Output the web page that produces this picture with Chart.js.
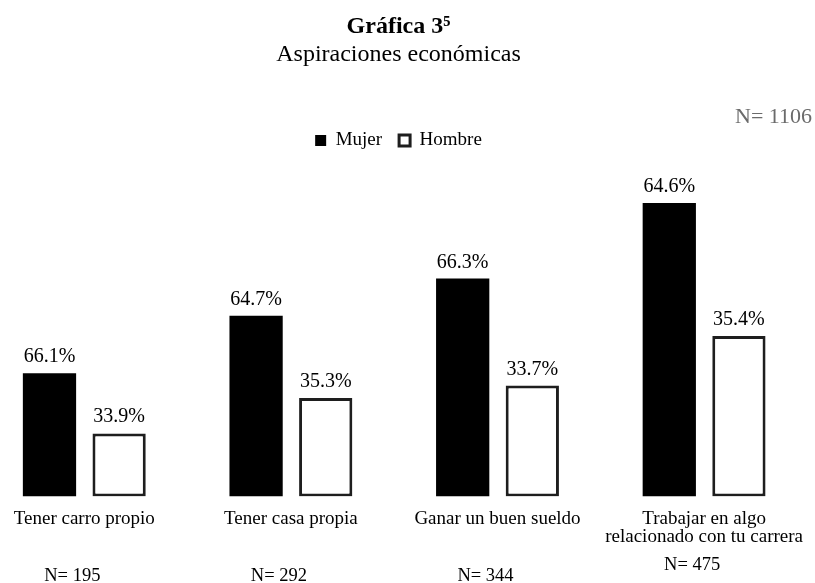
<!DOCTYPE html>
<html lang="es">
<head>
<meta charset="utf-8">
<title>Gráfica 3 - Aspiraciones económicas</title>
<script src="https://cdn.jsdelivr.net/npm/chart.js@4.4.1/dist/chart.umd.min.js"></script>
<style>
  html, body { margin: 0; padding: 0; background: #fff; overflow: hidden; }
  /* plot area in the original runs a little past the left edge */
  #wrap { position: absolute; left: -19px; top: 0; width: 835px; height: 583px; }
</style>
</head>
<body>
<div id="wrap"><canvas id="chart"></canvas></div>
<script>
// ================================
// Data
// ================================
const categories = [
    "Tener carro propio",
    "Tener casa propia",
    "Ganar un buen sueldo",
    ["Trabajar en algo", "relacionado con tu carrera"]
];

// bar heights = number of people in each group
const mujerCount = [129, 189, 228, 307];
const hombreCount = [66, 103, 116, 168];

// percentages printed above the bars
const mujerPct = [66.1, 64.7, 66.3, 64.6];
const hombrePct = [33.9, 35.3, 33.7, 35.4];

// sample size under each category, and overall
const groupN = [195, 292, 344, 475];
const totalN = 1106;

const yMax = 352;

const SERIF = "'Liberation Serif', 'Times New Roman', serif";
Chart.defaults.font.family = SERIF;
Chart.defaults.color = "#000";

// ========================================================
// Plugin: percentage labels on top of every bar
// ========================================================
const barLabels = {
    id: "barLabels",
    afterDatasetsDraw(chart) {
        const ctx = chart.ctx;
        const pcts = [mujerPct, hombrePct];
        ctx.save();
        ctx.font = "20px " + SERIF;
        ctx.fillStyle = "#000";
        ctx.textAlign = "center";
        ctx.textBaseline = "alphabetic";
        chart.data.datasets.forEach((ds, d) => {
            chart.getDatasetMeta(d).data.forEach((bar, i) => {
                ctx.fillText(pcts[d][i].toFixed(1) + "%", bar.x, bar.y - 11);
            });
        });
        ctx.restore();
    }
};

// ========================================================
// Plugin: "N= ..." under each group and the total top right
// ========================================================
const nLabels = {
    id: "nLabels",
    afterDraw(chart) {
        const ctx = chart.ctx;
        const xScale = chart.scales.x;
        const area = chart.chartArea;
        ctx.save();
        ctx.fillStyle = "#000";
        ctx.font = "18.5px " + SERIF;
        ctx.textAlign = "center";
        ctx.textBaseline = "alphabetic";
        groupN.forEach((n, i) => {
            const lines = Array.isArray(categories[i]) ? categories[i].length : 1;
            const y = area.bottom + (lines > 1 ? 73.5 : 84);
            ctx.fillText("N= " + n, xScale.getPixelForTick(i) - 12, y);
        });

        ctx.fillStyle = "#6b6b6b";
        ctx.font = "22px " + SERIF;
        ctx.textAlign = "right";
        ctx.fillText("N= " + totalN, chart.width - 4, 122.5);
        ctx.restore();
    }
};

new Chart(document.getElementById("chart"), {
    type: "bar",
    data: {
        labels: categories,
        datasets: [
            {
                label: "Mujer",
                data: mujerCount,
                backgroundColor: "#000",
                borderWidth: 0
            },
            {
                label: "Hombre",
                data: hombreCount,
                backgroundColor: "#fff",
                borderColor: "#1e1e1e",
                borderWidth: 3,
                borderSkipped: false
            }
        ]
    },
    options: {
        responsive: true,
        maintainAspectRatio: false,
        animation: false,
        datasets: {
            bar: { categoryPercentage: 0.674, barPercentage: 0.765 }
        },
        layout: { padding: { bottom: 24 } },
        plugins: {
            title: {
                display: true,
                text: "Gráfica 3⁵",
                color: "#000",
                font: { family: SERIF, size: 24, weight: "bold" },
                padding: { top: 12, bottom: 0 }
            },
            subtitle: {
                display: true,
                text: "Aspiraciones económicas",
                color: "#000",
                font: { family: SERIF, size: 24 },
                padding: { top: 0, bottom: 44.4 }
            },
            legend: {
                labels: {
                    boxWidth: 11,
                    boxHeight: 11,
                    padding: 17,
                    color: "#000",
                    font: { family: SERIF, size: 19 }
                }
            },
            tooltip: { enabled: false }
        },
        scales: {
            x: {
                grid: { display: false, drawTicks: false },
                border: { display: false },
                ticks: {
                    padding: 13,
                    color: "#000",
                    maxRotation: 0,
                    autoSkip: false,
                    font: { family: SERIF, size: 19, lineHeight: 0.96 }
                }
            },
            y: { display: false, min: 0, max: yMax }
        }
    },
    plugins: [barLabels, nLabels]
});
</script>
</body>
</html>
